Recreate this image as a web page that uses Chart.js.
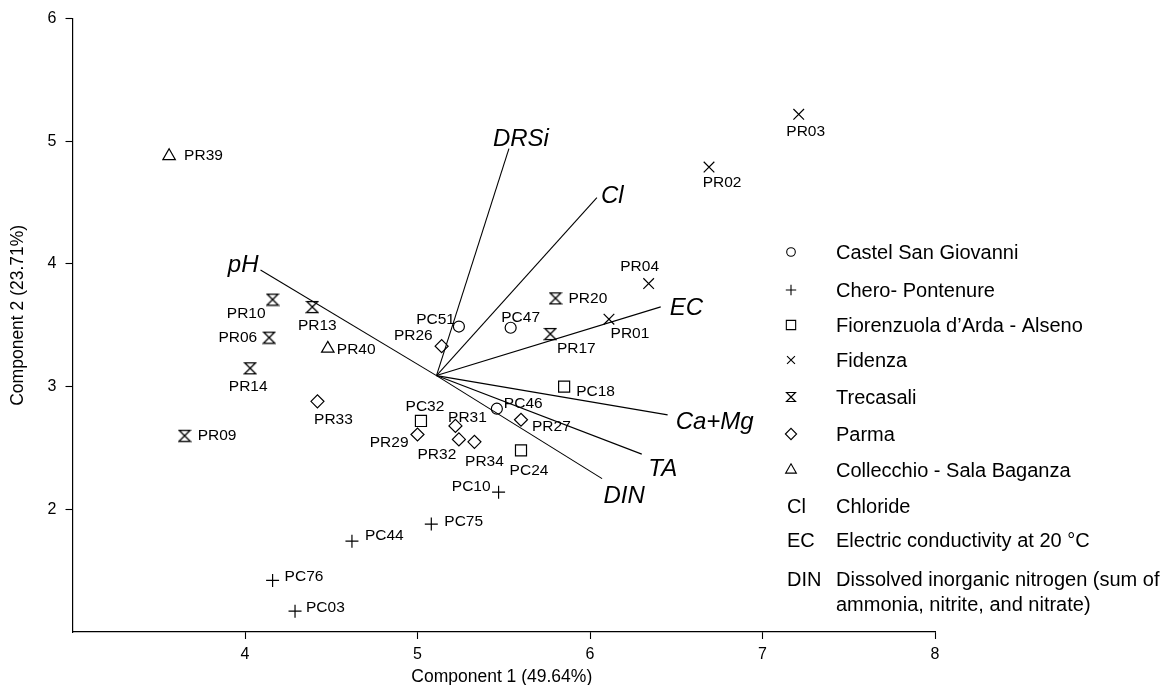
<!DOCTYPE html>
<html>
<head>
<meta charset="utf-8">
<title>PCA biplot of groundwater samples</title>
<script src="https://cdn.jsdelivr.net/npm/chart.js@4.4.1/dist/chart.umd.min.js"></script>
<style>
  html, body { margin: 0; padding: 0; background: #ffffff; }
  #wrap { width: 1173px; height: 685px; position: relative; }
</style>
</head>
<body>
<div id="wrap"><canvas id="biplot" width="1173" height="685"></canvas></div>
<script>
// ---- Sample scores on the first two principal components, per area ----
const groupNames = [
  'Castel San Giovanni',
  'Chero- Pontenure',
  'Fiorenzuola d\u2019Arda - Alseno',
  'Fidenza',
  'Trecasali',
  'Parma',
  'Collecchio - Sala Baganza'
];

const castelSites = ['PC51', 'PC47', 'PC46'];
const castelPC1   = [5.24, 5.54, 5.46];
const castelPC2   = [3.49, 3.48, 2.82];

const cheroSites = ['PC10', 'PC75', 'PC44', 'PC76', 'PC03'];
const cheroPC1   = [5.47, 5.08, 4.62, 4.16, 4.29];
const cheroPC2   = [2.14, 1.88, 1.74, 1.42, 1.17];

const fiorenzuolaSites = ['PC18', 'PC32', 'PC24'];
const fiorenzuolaPC1   = [5.85, 5.02, 5.60];
const fiorenzuolaPC2   = [3.00, 2.72, 2.48];

const fidenzaSites = ['PR03', 'PR02', 'PR04', 'PR01'];
const fidenzaPC1   = [7.21, 6.69, 6.34, 6.11];
const fidenzaPC2   = [5.22, 4.79, 3.84, 3.55];

const trecasaliSites = ['PR10', 'PR13', 'PR06', 'PR14', 'PR09', 'PR20', 'PR17'];
const trecasaliPC1   = [4.16, 4.39, 4.14, 4.03, 3.65, 5.80, 5.77];
const trecasaliPC2   = [3.71, 3.65, 3.40, 3.15, 2.60, 3.72, 3.43];

const parmaSites = ['PR26', 'PR33', 'PR31', 'PR27', 'PR29', 'PR32', 'PR34'];
const parmaPC1   = [5.14, 4.42, 5.22, 5.60, 5.00, 5.24, 5.33];
const parmaPC2   = [3.33, 2.88, 2.68, 2.73, 2.61, 2.57, 2.55];

const collecchioSites = ['PR39', 'PR40'];
const collecchioPC1   = [3.56, 4.48];
const collecchioPC2   = [4.88, 3.31];

// ---- Variable loadings, drawn as rays from a common origin ----
const vectorOrigin = [5.11, 3.09];
const vectorNames  = ['pH', 'DRSi', 'Cl', 'EC', 'Ca+Mg', 'TA', 'DIN'];
const vectorPC1    = [4.09, 5.53, 6.04, 6.41, 6.45, 6.30, 6.07];
const vectorPC2    = [3.95, 4.94, 4.54, 3.65, 2.77, 2.45, 2.25];

// ---- Axes ----
const xTicks = [4, 5, 6, 7, 8];
const yTicks = [2, 3, 4, 5, 6];
const xTitle = 'Component 1 (49.64%)';
const yTitle = 'Component 2 (23.71%)';

// ---- Abbreviation key ----
const abbreviations = ['Cl', 'EC', 'DIN'];
const abbreviationMeaning = [
  ['Chloride'],
  ['Electric conductivity at 20 \u00B0C'],
  ['Dissolved inorganic nitrogen (sum of', 'ammonia, nitrite, and nitrate)']
];

// ---------------------------------------------------------------------
const FONT = '"Liberation Sans", Arial, Helvetica, sans-serif';

// hourglass marker (bar, cross, bar) as a small canvas
function makeHourglass(size, lw) {
  const c = document.createElement('canvas');
  c.width = size; c.height = size;
  const g = c.getContext('2d');
  g.strokeStyle = '#000';
  g.lineWidth = lw;
  g.lineJoin = 'miter';
  const a = 1.5, b = size - 1.5;
  g.beginPath();
  g.moveTo(a, a); g.lineTo(b, a); g.lineTo(a, b); g.lineTo(b, b); g.closePath();
  g.stroke();
  return c;
}
const hourglassBig = makeHourglass(14, 1.25);
const hourglassSmall = makeHourglass(12, 1.15);

const groups = [
  { sites: castelSites,      pc1: castelPC1,      pc2: castelPC2 },
  { sites: cheroSites,       pc1: cheroPC1,       pc2: cheroPC2 },
  { sites: fiorenzuolaSites, pc1: fiorenzuolaPC1, pc2: fiorenzuolaPC2 },
  { sites: fidenzaSites,     pc1: fidenzaPC1,     pc2: fidenzaPC2 },
  { sites: trecasaliSites,   pc1: trecasaliPC1,   pc2: trecasaliPC2 },
  { sites: parmaSites,       pc1: parmaPC1,       pc2: parmaPC2 },
  { sites: collecchioSites,  pc1: collecchioPC1,  pc2: collecchioPC2 }
];

// marker look per area: [pointStyle, plot radius, key radius]
const markerLook = [
  ['circle',   5.5, 4.3],
  ['cross',    6.5, 5.2],
  ['rect',     7.8, 6.6],
  ['crossRot', 7.5, 5.6],
  [hourglassBig, 6, 5],
  ['rectRot',  6.5, 5.6],
  ['triangle', 7.2, 6.2]
];

// where each site name sits relative to its marker: [dx, dy, textAlign]
const sitePlacement = {
  PC51: [-4, -7, 'right'],  PC47: [10, -10, 'center'], PC46: [7, -5, 'left'],
  PC10: [-8, -5, 'right'],  PC75: [13, -2, 'left'],    PC44: [13, -5, 'left'],
  PC76: [12, -4, 'left'],   PC03: [11, -3, 'left'],
  PC18: [12, 5, 'left'],    PC32: [4, -14, 'center'],  PC24: [8, 20, 'center'],
  PR03: [7, 17, 'center'],  PR02: [13, 16, 'center'],  PR04: [-9, -17, 'center'],
  PR01: [21, 15, 'center'],
  PR10: [-7, 14, 'right'],  PR13: [5, 19, 'center'],   PR06: [-12, 0, 'right'],
  PR14: [-2, 18, 'center'], PR09: [13, 0, 'left'],     PR20: [13, 0, 'left'],
  PR17: [26, 15, 'center'],
  PR26: [-9, -10, 'right'], PR33: [16, 18, 'center'],  PR31: [12, -8, 'center'],
  PR27: [11, 7, 'left'],    PR29: [-9, 8, 'right'],    PR32: [-22, 15, 'center'],
  PR34: [10, 20, 'center'],
  PR39: [15, 0, 'left'],    PR40: [9, 1, 'left']
};

// where each loading name sits relative to the ray tip
const vectorPlacement = {
  'pH':    [-2, -5, 'right'],
  'DRSi':  [12, -9, 'center'],
  'Cl':    [4, -1, 'left'],
  'EC':    [9, 1, 'left'],
  'Ca+Mg': [8, 7, 'left'],
  'TA':    [21, 15, 'center'],
  'DIN':   [22, 18, 'center']
};

function drawMarker(ctx, style, r, x, y) {
  if (typeof style === 'object') {
    ctx.drawImage(style, Math.round(x - style.width / 2), Math.round(y - style.height / 2));
    return;
  }
  const s = Math.SQRT1_2 * r;
  ctx.beginPath();
  switch (style) {
    case 'circle':
      ctx.arc(x, y, r, 0, Math.PI * 2); break;
    case 'cross':
      ctx.moveTo(x - r, y); ctx.lineTo(x + r, y);
      ctx.moveTo(x, y - r); ctx.lineTo(x, y + r); break;
    case 'rect':
      ctx.rect(x - s, y - s, 2 * s, 2 * s); break;
    case 'crossRot':
      ctx.moveTo(x - s, y - s); ctx.lineTo(x + s, y + s);
      ctx.moveTo(x - s, y + s); ctx.lineTo(x + s, y - s); break;
    case 'rectRot':
      ctx.moveTo(x - r, y); ctx.lineTo(x, y - r); ctx.lineTo(x + r, y); ctx.lineTo(x, y + r);
      ctx.closePath(); break;
    case 'triangle':
      ctx.moveTo(x, y - r);
      ctx.lineTo(x + r * 0.866, y + r / 2);
      ctx.lineTo(x - r * 0.866, y + r / 2);
      ctx.closePath(); break;
  }
  ctx.stroke();
}

const datasets = [];
groups.forEach((g, i) => {
  datasets.push({
    label: groupNames[i],
    data: g.pc1.map((v, j) => ({ x: v, y: g.pc2[j] })),
    pointStyle: markerLook[i][0],
    pointRadius: markerLook[i][1],
    pointBorderColor: '#000',
    pointBackgroundColor: 'rgba(0,0,0,0)',
    pointBorderWidth: 1.2,
    showLine: false
  });
});
vectorNames.forEach((name, i) => {
  datasets.push({
    label: name,
    data: [
      { x: vectorOrigin[0], y: vectorOrigin[1] },
      { x: vectorPC1[i], y: vectorPC2[i] }
    ],
    showLine: true,
    borderColor: '#000',
    borderWidth: 1.1,
    pointRadius: 0,
    fill: false
  });
});

const annotate = {
  id: 'annotate',
  afterDatasetsDraw(chart) {
    const ctx = chart.ctx;
    const area = chart.chartArea;
    ctx.save();
    ctx.fillStyle = '#000';
    ctx.strokeStyle = '#000';
    ctx.textBaseline = 'middle';

    // site names
    ctx.font = '15.5px ' + FONT;
    groups.forEach((g, gi) => {
      chart.getDatasetMeta(gi).data.forEach((pt, j) => {
        const name = g.sites[j];
        const p = sitePlacement[name] || [12, 0, 'left'];
        ctx.textAlign = p[2];
        ctx.fillText(name, pt.x + p[0], pt.y + p[1]);
      });
    });

    // loading names
    ctx.font = 'italic 24px ' + FONT;
    vectorNames.forEach((name, i) => {
      const tip = chart.getDatasetMeta(groups.length + i).data[1];
      const p = vectorPlacement[name];
      ctx.textAlign = p[2];
      ctx.fillText(name, tip.x + p[0], tip.y + p[1]);
    });

    // key: marker symbols
    const keyMarkX = area.right - 144;
    const keyTextX = area.right - 99;
    const keyRows = [252, 290, 325, 360, 397, 434, 470];
    ctx.font = '20px ' + FONT;
    ctx.textAlign = 'left';
    ctx.lineWidth = 1.1;
    groupNames.forEach((name, i) => {
      const look = markerLook[i];
      const style = look[0] === hourglassBig ? hourglassSmall : look[0];
      drawMarker(ctx, style, look[2], keyMarkX, keyRows[i]);
      ctx.fillText(name, keyTextX, keyRows[i] + 1);
    });

    // key: abbreviations
    const abbrRows = [507, 541, 580];
    abbreviations.forEach((abbr, i) => {
      ctx.fillText(abbr, keyMarkX - 4, abbrRows[i]);
      abbreviationMeaning[i].forEach((line, k) => {
        ctx.fillText(line, keyTextX, abbrRows[i] + k * 25);
      });
    });

    // axis titles
    ctx.font = '17.5px ' + FONT;
    ctx.textAlign = 'center';
    ctx.fillText(xTitle, (area.left + area.right) / 2 - 2, area.bottom + 45);
    ctx.save();
    ctx.translate(18, (area.top + area.bottom) / 2 - 10);
    ctx.rotate(-Math.PI / 2);
    ctx.fillText(yTitle, 0, 0);
    ctx.restore();

    ctx.restore();
  }
};

new Chart(document.getElementById('biplot'), {
  type: 'scatter',
  data: { datasets },
  options: {
    responsive: false,
    animation: false,
    devicePixelRatio: 1,
    events: [],
    layout: { padding: { left: 0, right: 238, top: 17, bottom: 0 } },
    plugins: {
      legend: { display: false },
      tooltip: { enabled: false },
      title: { display: false }
    },
    scales: {
      x: {
        type: 'linear',
        min: 3,
        max: 8,
        afterFit(scale) { scale.height = 53; },
        ticks: {
          stepSize: 1,
          padding: 6,
          color: '#000',
          font: { size: 16, family: FONT },
          callback: v => (xTicks.includes(v) ? String(v) : '')
        },
        grid: {
          display: true,
          drawOnChartArea: false,
          drawTicks: true,
          tickLength: 7,
          tickWidth: 1.1,
          color: c => (c.tick && xTicks.includes(c.tick.value) ? '#000' : 'rgba(0,0,0,0)')
        },
        border: { display: true, color: '#000', width: 1.2 },
        title: { display: false }
      },
      y: {
        type: 'linear',
        min: 1,
        max: 6,
        afterFit(scale) { scale.width = 72.5; },
        ticks: {
          stepSize: 1,
          padding: 9,
          color: '#000',
          font: { size: 16, family: FONT },
          callback: v => (yTicks.includes(v) ? String(v) : '')
        },
        grid: {
          display: true,
          drawOnChartArea: false,
          drawTicks: true,
          tickLength: 7,
          tickWidth: 1.1,
          color: c => (c.tick && yTicks.includes(c.tick.value) ? '#000' : 'rgba(0,0,0,0)')
        },
        border: { display: true, color: '#000', width: 1.2 },
        title: { display: false }
      }
    }
  },
  plugins: [annotate]
});
</script>
</body>
</html>
